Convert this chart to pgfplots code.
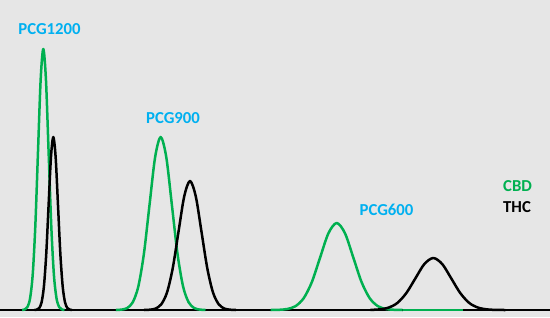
\documentclass[border=0pt]{standalone}
\usepackage{pgfplots}
\pgfplotsset{compat=1.18}
\usepackage{fontspec}
\setmainfont{Carlito}
\definecolor{bg}{HTML}{E6E6E6}
\definecolor{pgreen}{HTML}{00B050}
\definecolor{pcyan}{HTML}{00B0F0}
\begin{document}
\begin{tikzpicture}
\begin{axis}[
  scale only axis, width=550bp, height=317bp,
  xmin=0, xmax=550, ymin=0, ymax=317,
  axis line style={draw=none}, ticks=none,
  axis background/.style={fill=bg},
  every axis plot/.append style={line join=round},
]
% baseline
\addplot[black, line width=2bp] coordinates {(0,7) (550,7)};
% green PCG1200
\addplot[pgreen, line width=2.5bp, smooth] coordinates {
(22.1,7) (24.75,7.6) (27.4,9.9) (30.05,18.5) (32.7,42.3) (35.35,91.7) (38.0,165.3) (40.65,237.3) (43.3,268)
(45.95,237.3) (48.6,165.3) (51.25,91.7) (53.9,42.3) (56.55,18.5) (59.2,9.9) (61.85,7.6) (64.5,7)};
% green PCG900
\addplot[pgreen, line width=2.5bp, smooth] coordinates {
(115.9,7) (121.5,7.4) (127.1,8.9) (132.7,14.6) (138.3,30.4) (143.9,63.2) (149.5,111.9) (155.1,159.7) (160.7,180)
(166.3,159.7) (171.9,111.9) (177.5,63.2) (183.1,30.4) (188.7,14.6) (194.3,8.9) (199.9,7.4) (205.5,7)};
% green PCG600
\addplot[pgreen, line width=2.5bp, smooth] coordinates {
(270.7,7) (278.95,7.2) (287.2,8.0) (295.45,10.8) (303.7,18.8) (311.95,35.2) (320.2,59.8) (328.45,83.8) (336.7,94)
(344.95,83.8) (353.2,59.8) (361.45,35.2) (369.7,18.8) (377.95,10.8) (386.2,8.0) (394.45,7.2) (402.7,7)};
\addplot[pgreen, line width=2.5bp] coordinates {(402.7,7) (463,7)};
% black PCG1200
\addplot[black, line width=2.5bp, smooth] coordinates {
(34.5,7) (36.85,7.4) (39.2,8.9) (41.55,14.6) (43.9,30.4) (46.25,63.2) (48.6,111.9) (50.95,159.7) (53.3,180)
(55.65,159.7) (58.0,111.9) (60.35,63.2) (62.7,30.4) (65.05,14.6) (67.4,8.9) (69.75,7.4) (72.1,7)};
% black PCG900
\addplot[black, line width=2.5bp, smooth] coordinates {
(144,7) (149.75,7.3) (155.5,8.4) (161.25,12.7) (167,24.5) (172.75,48.9) (178.5,85.2) (184.25,120.8) (190,136)
(195.75,120.8) (201.5,85.2) (207.25,48.9) (213,24.5) (218.75,12.7) (224.5,8.4) (230.25,7.3) (236,7)};
% black PCG600
\addplot[black, line width=2.5bp, smooth] coordinates {
(370.3,7.1) (379.3,7.6) (388.3,9.3) (397.3,14.0) (406.3,23.9) (415.3,38.5) (424.3,52.9) (433.3,59)
(442.3,52.9) (451.3,38.5) (460.3,23.9) (469.3,14.0) (478.3,9.3) (487.3,7.6) (496.3,7.1) (505.3,7)};
% labels
\node[font=\fontsize{16.8}{20}\selectfont\bfseries, text=pcyan] at (axis cs:49.5,288) {PCG1200};
\node[font=\fontsize{16.8}{20}\selectfont\bfseries, text=pcyan] at (axis cs:173,199) {PCG900};
\node[font=\fontsize{16.8}{20}\selectfont\bfseries, text=pcyan] at (axis cs:386.5,107) {PCG600};
\node[font=\fontsize{16.8}{20}\selectfont\bfseries, text=pgreen, anchor=west, inner sep=0pt] at (axis cs:503,131) {CBD};
\node[font=\fontsize{16.8}{20}\selectfont\bfseries, text=black, anchor=west, inner sep=0pt] at (axis cs:503,110) {THC};
\end{axis}
\end{tikzpicture}
\end{document}
